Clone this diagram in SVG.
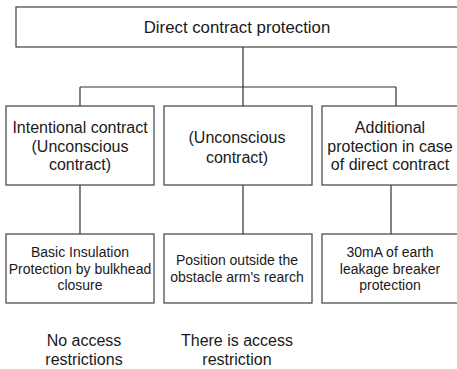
<svg xmlns="http://www.w3.org/2000/svg" width="457" height="369" viewBox="0 0 457 369">
<style>
.box{fill:#fff;stroke:#404040;stroke-width:1.2}
.ln{fill:none;stroke:#333;stroke-width:1.2}
text{font-family:"Liberation Sans",Arial,sans-serif;fill:#1a1a1a;text-anchor:middle}
.t1{font-size:16.8px}
.t2{font-size:16px}
.t3{font-size:14px}
</style>
<rect width="457" height="369" fill="#fff"/>
<g id="connectors">
<path class="ln" d="M243,47V87M80,87H396M80,87V106M243,87V106M396,87V106"/>
<path class="ln" d="M80,185V234M243,185V234M391,185V234"/>
</g>
<g id="root">
<rect class="box" x="16" y="7" width="446" height="40"/>
<text class="t1" x="237" y="32.7">Direct contract protection</text>
</g>
<g id="intentional">
<rect class="box" x="6" y="106" width="148" height="79"/>
<text class="t2" x="80" y="132.8">Intentional contract</text>
<text class="t2" x="80" y="151.5">(Unconscious</text>
<text class="t2" x="80" y="170.2">contract)</text>
</g>
<g id="unconscious">
<rect class="box" x="164" y="106" width="148" height="79"/>
<text class="t2" x="237" y="143">(Unconscious</text>
<text class="t2" x="237" y="162.5">contract)</text>
</g>
<g id="additional">
<rect class="box" x="322" y="106" width="140" height="79"/>
<text class="t2" x="390" y="132.8">Additional</text>
<text class="t2" x="390" y="151.5">protection in case</text>
<text class="t2" x="390" y="170.2">of direct contract</text>
</g>
<g id="basic">
<rect class="box" x="6" y="234" width="148" height="69"/>
<text class="t3" x="80" y="257.3">Basic Insulation</text>
<text class="t3" x="80" y="273.8">Protection by bulkhead</text>
<text class="t3" x="80" y="290.3">closure</text>
</g>
<g id="position">
<rect class="box" x="164" y="234" width="148" height="69"/>
<text class="t3" x="237" y="265">Position outside the</text>
<text class="t3" x="237" y="282">obstacle arm's rearch</text>
</g>
<g id="leakage">
<rect class="box" x="322" y="234" width="140" height="69"/>
<text class="t3" x="390" y="257.3">30mA of earth</text>
<text class="t3" x="390" y="273.8">leakage breaker</text>
<text class="t3" x="390" y="290.3">protection</text>
</g>
<g id="label-no-access">
<text class="t2" x="84" y="346">No access</text>
<text class="t2" x="84" y="364.5">restrictions</text>
</g>
<g id="label-access">
<text class="t2" x="237" y="346">There is access</text>
<text class="t2" x="237" y="364.5">restriction</text>
</g>
</svg>
